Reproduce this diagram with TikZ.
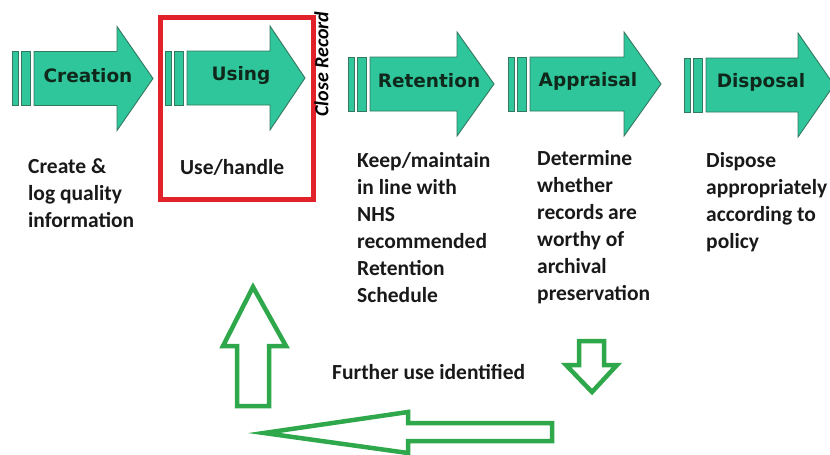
\documentclass[tikz,border=0pt]{standalone}
\usepackage{fontspec}
\setmainfont{Carlito}
\newfontfamily\stagefont{DejaVu Sans}

\definecolor{stagefill}{RGB}{46,198,154}
\definecolor{stageline}{RGB}{52,120,96}
\definecolor{stagetext}{RGB}{16,40,28}
\definecolor{loopgreen}{RGB}{46,168,74}
\definecolor{focusred}{RGB}{226,34,42}
\definecolor{captiontext}{RGB}{25,25,25}

\tikzset{
  stagepart/.style={fill=stagefill, draw=stageline, line width=0.9pt, line join=miter},
  stagelabel/.style={font=\stagefont\bfseries\fontsize{18.5}{20}\selectfont, text=stagetext, inner sep=0pt},
  caption/.style={font=\bfseries\fontsize{21.5}{27}\selectfont, text=captiontext,
    text width=260pt, align=flush left, anchor=base west, inner sep=0pt},
  loopshape/.style={draw=loopgreen, line width=4.5pt, fill=white, line join=miter},
}

% #1 name, #2 stripe start, #3 head base, #4 tip, #5 centre line, #6 label, #7 label centre
\newcommand\stagearrow[7]{%
  \path[stagepart] (#2,#5-27) rectangle (#2+6,#5+27);
  \path[stagepart] (#2+9,#5-27) rectangle (#2+18,#5+27);
  \path[stagepart] (#2+22,#5-27) -- (#3,#5-27) -- (#3,#5-52) -- (#4,#5)
     -- (#3,#5+52) -- (#3,#5+27) -- (#2+22,#5+27) -- cycle;
  \node[stagelabel] (#1) at (#7,#5-3) {#6};
}

\begin{document}
\begin{tikzpicture}[x=1pt,y=-1pt]
  \useasboundingbox (0,0) rectangle (830,455);
  \fill[white] (0,0) rectangle (830,455);

  % life-cycle stages
  \stagearrow{creation}{12}{117}{153}{78.5}{Creation}{88}
  \stagearrow{using}{165}{270}{305}{78}{Using}{241}
  \stagearrow{retention}{348}{457}{494}{84}{Retention}{429}
  \stagearrow{appraisal}{508}{624}{661}{84}{Appraisal}{588}
  \stagearrow{disposal}{684}{798}{834}{85}{Disposal}{761}

  % highlighted stage
  \draw[focusred, line width=5pt] (160,17) rectangle (313,199);

  \node[rotate=90, inner sep=0pt, font=\bfseries\itshape\fontsize{20}{22}\selectfont]
    (closerec) at (321.5,64) {Close Record};

  % stage descriptions
  \node[caption] (dcreate) at (28,173) {Create \&\\log quality\\information};
  \node[caption] (duse) at (180,174) {Use/handle};
  \node[caption] (dkeep) at (357,167) {Keep/maintain\\in line with\\NHS\\recommended\\Retention\\Schedule};
  \node[caption] (dappr) at (537,165) {Determine\\whether\\records are\\worthy of\\archival\\preservation};
  \node[caption] (ddisp) at (706,167) {Dispose\\appropriately\\according to\\policy};
  \node[caption] (further) at (332,379) {Further use identified};

  % return loop
  \path[loopshape] (579,341) -- (604,341) -- (604,365) -- (617,365) -- (592,392)
     -- (566,365) -- (579,365) -- cycle;
  \path[loopshape] (552,423) -- (408,423) -- (408,412) -- (264,433) -- (408,453)
     -- (408,441) -- (552,441) -- cycle;
  \path[loopshape] (237,406) -- (237,346) -- (223,346) -- (253,287) -- (286,346)
     -- (269,346) -- (269,406) -- cycle;
\end{tikzpicture}
\end{document}
